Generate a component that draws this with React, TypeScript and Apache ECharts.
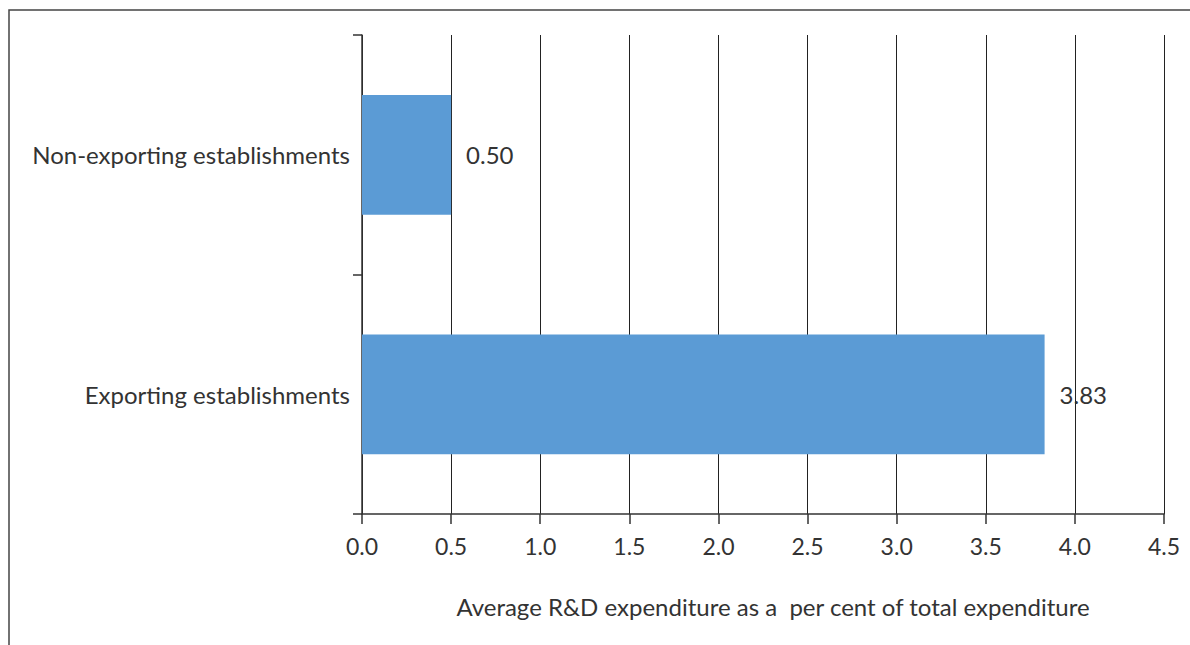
import React, { useEffect, useRef } from "react";
import * as echarts from "echarts";

const categories = ["Non-exporting establishments", "Exporting establishments"];
const values = [0.5, 3.83];
const axisTitle = "Average R&D expenditure as a  per cent of total expenditure";

export default function App() {
  const ref = useRef<HTMLDivElement>(null);
  useEffect(() => {
    if (!ref.current) return;
    const chart = echarts.init(ref.current, null, { renderer: "svg" });
    const font = "Lato";
    chart.setOption({
      animation: false,
      backgroundColor: "#ffffff",
      grid: { left: 362, right: 26, top: 35, bottom: 131, containLabel: false },
      xAxis: {
        type: "value",
        min: 0,
        max: 4.5,
        interval: 0.5,
        axisLine: { show: true, lineStyle: { color: "#333", width: 1.5 } },
        axisTick: { show: true, length: 10, lineStyle: { color: "#333", width: 1.5 } },
        axisLabel: {
          formatter: (v: number) => v.toFixed(1),
          fontFamily: font,
          fontSize: 23,
          color: "#333",
          margin: 20,
        },
        splitLine: { show: true, lineStyle: { color: "#222", width: 1 } },
      },
      yAxis: {
        type: "category",
        data: categories,
        inverse: true,
        axisLine: { show: true, lineStyle: { color: "#333", width: 1.5 } },
        axisTick: { show: true, length: 9, lineStyle: { color: "#333", width: 1.5 } },
        axisLabel: { fontFamily: font, fontSize: 24, color: "#333", margin: 12 },
      },
      series: [
        {
          type: "bar",
          data: values,
          barWidth: "50%",
          itemStyle: { color: "#5B9BD5" },
          label: {
            show: true,
            position: "right",
            distance: 15,
            formatter: (p: any) => Number(p.value).toFixed(2),
            fontFamily: font,
            fontSize: 24,
            color: "#333",
          },
        },
      ],
      graphic: [
        {
          type: "polyline",
          shape: { points: [[9, 645], [9, 10], [1190, 10]] },
          style: { stroke: "#444", lineWidth: 1.5, fill: "none" },
        },
        {
          type: "text",
          x: 773,
          y: 606,
          style: {
            text: axisTitle,
            fontFamily: font,
            fontSize: 24,
            fill: "#333",
            textAlign: "center",
            textVerticalAlign: "middle",
          },
        },
      ],
    });
    return () => chart.dispose();
  }, []);
  return (
    <div
      ref={ref}
      style={{ position: "fixed", left: 0, top: 0, width: 1190, height: 645 }}
    />
  );
}
